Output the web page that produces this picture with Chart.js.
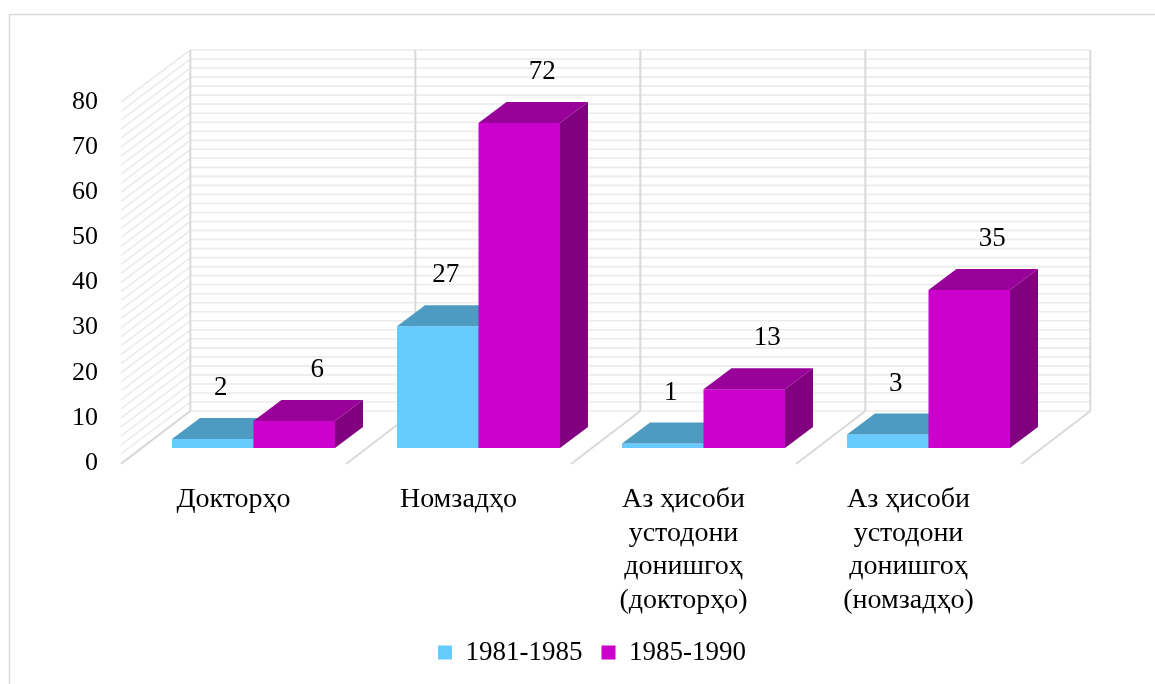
<!DOCTYPE html>
<html>
<head>
<meta charset="utf-8">
<script src="https://cdn.jsdelivr.net/npm/chart.js@4.4.1/dist/chart.umd.min.js"></script>
<style>
  html, body { margin: 0; padding: 0; background: #ffffff; }
  #wrap { width: 1155px; height: 684px; position: relative; }
</style>
</head>
<body>
<div id="wrap"><canvas id="c" width="1155" height="684"></canvas></div>
<script>
// ---- data ----
const categories = [
  ["Докторҳо"],
  ["Номзадҳо"],
  ["Аз ҳисоби", "устодони", "донишгоҳ", "(докторҳо)"],
  ["Аз ҳисоби", "устодони", "донишгоҳ", "(номзадҳо)"]
];
const seriesNames = ["1981-1985", "1985-1990"];
const series1981 = [2, 27, 1, 3];
const series1985 = [6, 72, 13, 35];
const yMin = 0;
const yMax = 80;
const yStep = 10;

// ---- style ----
const FONT = "'Liberation Serif', 'Times New Roman', serif";
const faces = [
  { front: '#66CCFF', top: '#4D9BC1', side: '#3F7E9D' },
  { front: '#CC00CC', top: '#990099', side: '#800080' }
];
const K = 1.333;          // depth projection ratio (dx per dy)
const WALL_DEPTH = 52;
const BAR_FRONT = 15;
const BAR_DEPTH = 21;
const LABEL_DX = [8, 23];
const LABEL_UP = 30;
const LEGEND_CENTER_X = 592;

function line(ctx, x1, y1, x2, y2) {
  ctx.beginPath(); ctx.moveTo(x1, y1); ctx.lineTo(x2, y2); ctx.stroke();
}
function poly(ctx, pts, color) {
  ctx.beginPath();
  ctx.moveTo(pts[0][0], pts[0][1]);
  for (let i = 1; i < pts.length; i++) ctx.lineTo(pts[i][0], pts[i][1]);
  ctx.closePath();
  ctx.fillStyle = color;
  ctx.fill();
}

const threeD = {
  id: 'threeD',
  afterLayout(chart) {
    const lg = chart.legend;
    if (lg) {
      const s = LEGEND_CENTER_X - (lg.left + lg.right) / 2;
      lg.left += s; lg.right += s;
    }
  },
  beforeDraw(chart) {
    const ctx = chart.ctx;
    ctx.save();
    ctx.strokeStyle = '#d9d9d9';
    ctx.lineWidth = 1.5;
    ctx.strokeRect(9.5, 14.5, 1200, 700);
    ctx.restore();
  },
  beforeDatasetsDraw(chart) {
    const ctx = chart.ctx;
    const xs = chart.scales.x, ys = chart.scales.y;
    const L = chart.chartArea.left, R = chart.chartArea.right;
    const wx = WALL_DEPTH * K, wy = -WALL_DEPTH;
    const n = categories.length;
    const catW = (R - L) / n;
    const y0 = ys.getPixelForValue(yMin);
    const yTop = ys.getPixelForValue(yMax);
    ctx.save();
    ctx.lineCap = 'butt';
    // back wall + left wall gridlines (minor every yStep/5)
    ctx.strokeStyle = '#ebebeb';
    ctx.lineWidth = 1.6;
    for (let v = yMin; v <= yMax + 1e-9; v += yStep / 5) {
      const y = ys.getPixelForValue(v);
      line(ctx, L + wx, y + wy, R + wx, y + wy);
      line(ctx, L, y, L + wx, y + wy);
    }
    // category dividers on back wall and floor
    ctx.strokeStyle = '#d9d9d9';
    ctx.lineWidth = 2;
    for (let i = 0; i <= n; i++) {
      const x = (i < n ? xs.getPixelForValue(i) - catW / 2 : xs.getPixelForValue(n - 1) + catW / 2);
      line(ctx, x + wx, y0 + wy, x + wx, yTop + wy);
      line(ctx, x, y0 + 1, x + wx, y0 + wy);
    }
    // bars
    const bx = BAR_FRONT * K, by = -BAR_FRONT;
    const dx = BAR_DEPTH * K, dy = -BAR_DEPTH;
    const labels = [];
    for (let i = 0; i < n; i++) {
      chart.data.datasets.forEach((ds, d) => {
        const el = chart.getDatasetMeta(d).data[i];
        const x0 = el.x - el.width / 2 + bx, x1 = el.x + el.width / 2 + bx;
        const t = el.y + by, b = el.base + by;
        const f = faces[d];
        poly(ctx, [[x0, t], [x1, t], [x1, b], [x0, b]], f.front);
        poly(ctx, [[x0, t], [x1, t], [x1 + dx, t + dy], [x0 + dx, t + dy]], f.top);
        poly(ctx, [[x1, t], [x1 + dx, t + dy], [x1 + dx, b + dy], [x1, b]], f.side);
        labels.push({ x: el.x + bx + LABEL_DX[d], y: t + dy - LABEL_UP, text: String(ds.data[i]) });
      });
    }
    ctx.fillStyle = '#000000';
    ctx.font = '27px ' + FONT;
    ctx.textAlign = 'center';
    ctx.textBaseline = 'middle';
    labels.forEach(l => ctx.fillText(l.text, l.x, l.y));
    ctx.restore();
    return false;
  }
};

new Chart(document.getElementById('c'), {
  type: 'bar',
  data: {
    labels: categories,
    datasets: [
      { label: seriesNames[0], data: series1981, backgroundColor: faces[0].front, borderWidth: 0 },
      { label: seriesNames[1], data: series1985, backgroundColor: faces[1].front, borderWidth: 0 }
    ]
  },
  options: {
    responsive: false,
    devicePixelRatio: 1,
    animation: false,
    categoryPercentage: 0.7244,
    barPercentage: 1,
    layout: { padding: { left: 0, right: 134, top: 102, bottom: 8 } },
    plugins: {
      tooltip: { enabled: false },
      legend: {
        position: 'bottom',
        labels: {
          boxWidth: 14, boxHeight: 14, padding: 19,
          color: '#000000',
          font: { family: FONT, size: 27 }
        }
      }
    },
    scales: {
      x: {
        grid: { display: false, drawTicks: false },
        border: { display: false },
        ticks: {
          color: '#000000', padding: 20, maxRotation: 0, autoSkip: false,
          font: { family: FONT, size: 28, lineHeight: 1.2 }
        },
        afterFit(scale) { scale.height = 157; }
      },
      y: {
        min: yMin, max: yMax,
        grid: { display: false, drawTicks: false },
        border: { display: false },
        ticks: {
          stepSize: yStep, color: '#000000', padding: 23,
          font: { family: FONT, size: 26 }
        },
        afterFit(scale) { scale.width = 121; }
      }
    }
  },
  plugins: [threeD]
});
</script>
</body>
</html>
